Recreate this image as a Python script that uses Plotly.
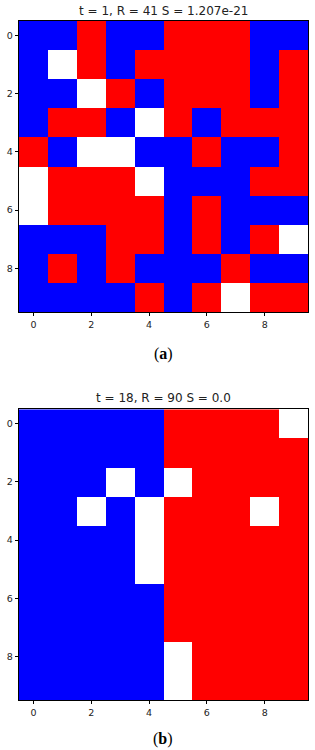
import plotly.graph_objects as go

# 1 = blue, -1 = red, 0 = white
grid_a = [
    [1, 1, -1, 1, 1, -1, -1, -1, 1, 1],
    [1, 0, -1, 1, -1, -1, -1, -1, 1, -1],
    [1, 1, 0, -1, 1, -1, -1, -1, 1, -1],
    [1, -1, -1, 1, 0, -1, 1, -1, -1, -1],
    [-1, 1, 0, 0, 1, 1, -1, 1, 1, -1],
    [0, -1, -1, -1, 0, 1, 1, 1, -1, -1],
    [0, -1, -1, -1, -1, 1, -1, 1, 1, 1],
    [1, 1, 1, -1, -1, 1, -1, 1, -1, 0],
    [1, -1, 1, -1, 1, 1, 1, -1, 1, 1],
    [1, 1, 1, 1, -1, 1, -1, 0, -1, -1],
]
grid_b = [
    [1, 1, 1, 1, 1, -1, -1, -1, -1, 0],
    [1, 1, 1, 1, 1, -1, -1, -1, -1, -1],
    [1, 1, 1, 0, 1, 0, -1, -1, -1, -1],
    [1, 1, 0, 1, 0, -1, -1, -1, 0, -1],
    [1, 1, 1, 1, 0, -1, -1, -1, -1, -1],
    [1, 1, 1, 1, 0, -1, -1, -1, -1, -1],
    [1, 1, 1, 1, 1, -1, -1, -1, -1, -1],
    [1, 1, 1, 1, 1, -1, -1, -1, -1, -1],
    [1, 1, 1, 1, 1, 0, -1, -1, -1, -1],
    [1, 1, 1, 1, 1, 0, -1, -1, -1, -1],
]
title_a = "t = 1, R = 41 S = 1.207e-21"
title_b = "t = 18, R = 90 S = 0.0"
caption_a = "(<b>a</b>)"
caption_b = "(<b>b</b>)"
tick_vals = [0, 2, 4, 6, 8]

colorscale = [[0, "#ff0000"], [0.3333, "#ff0000"], [0.3334, "#ffffff"],
              [0.6666, "#ffffff"], [0.6667, "#0000ff"], [1, "#0000ff"]]

fig = go.Figure()
fig.add_trace(go.Heatmap(z=grid_a, x=list(range(10)), y=list(range(10)),
                         colorscale=colorscale, zmin=-1, zmax=1, showscale=False,
                         xaxis="x", yaxis="y", hoverinfo="skip"))
fig.add_trace(go.Heatmap(z=grid_b, x=list(range(10)), y=list(range(10)),
                         colorscale=colorscale, zmin=-1, zmax=1, showscale=False,
                         xaxis="x2", yaxis="y2", hoverinfo="skip"))

W, H = 315, 750
xd = [19 / W, 308 / W]
yd_a = [1 - 312 / H, 1 - 21 / H]
yd_b = [1 - 700 / H, 1 - 409.3 / H]

axis_common = dict(showgrid=False, zeroline=False, ticks="outside", ticklen=3.5,
                   tickwidth=0.8, tickcolor="#000", showline=True, linecolor="#000",
                   linewidth=0.8, mirror=True, tickvals=tick_vals,
                   tickfont=dict(family="DejaVu Sans", size=9.5, color="#222"))

fig.update_layout(
    width=W, height=H, margin=dict(l=0, r=0, t=0, b=0),
    paper_bgcolor="white", plot_bgcolor="white",
    xaxis=dict(domain=xd, range=[-0.5, 9.5], anchor="y", **axis_common),
    yaxis=dict(domain=yd_a, range=[9.5, -0.5], anchor="x", **axis_common),
    xaxis2=dict(domain=xd, range=[-0.5, 9.5], anchor="y2", **axis_common),
    yaxis2=dict(domain=yd_b, range=[9.5, -0.5], anchor="x2", **axis_common),
    showlegend=False,
)

cx = (xd[0] + xd[1]) / 2
title_font = dict(family="DejaVu Sans", size=12, color="#222")
cap_font = dict(family="Liberation Serif", size=16, color="#000")
fig.add_annotation(text=title_a, x=cx, y=1 - 11 / H, xref="paper", yref="paper",
                   showarrow=False, font=title_font, xanchor="center", yanchor="middle")
fig.add_annotation(text=title_b, x=cx, y=1 - 398 / H, xref="paper", yref="paper",
                   showarrow=False, font=title_font, xanchor="center", yanchor="middle")
fig.add_annotation(text=caption_a, x=cx, y=1 - 354 / H, xref="paper", yref="paper",
                   showarrow=False, font=cap_font, xanchor="center", yanchor="middle")
fig.add_annotation(text=caption_b, x=cx, y=1 - 739 / H, xref="paper", yref="paper",
                   showarrow=False, font=cap_font, xanchor="center", yanchor="middle")

fig.write_html("out.html")
